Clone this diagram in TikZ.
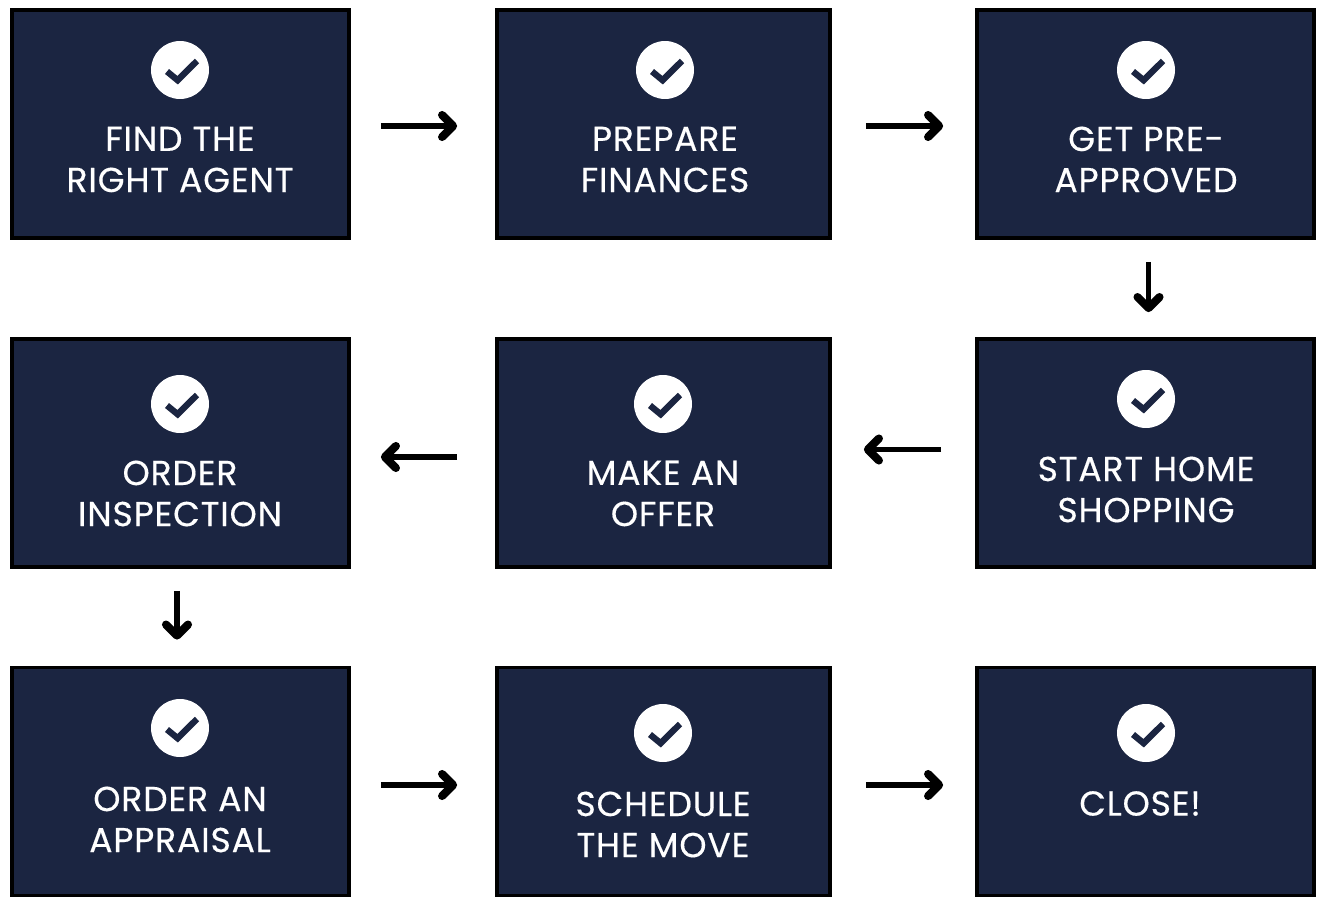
\documentclass[tikz,border=0pt]{standalone}
\usepackage{fontspec}
\setmainfont[LetterSpace=2.4, FakeBold=0.35]{Poppins}
\usetikzlibrary{arrows.meta}

\definecolor{navy}{HTML}{1B2541}

\begin{document}
\begin{tikzpicture}[
    x=0.02cm, y=-0.02cm,
    wideblock/.style={draw=black, fill=navy, line width=2.2pt, minimum width=6.74cm, minimum height=4.56cm},
    midblock/.style={wideblock, minimum width=6.66cm},
    caption/.style={text=white, align=center, inner sep=0pt, font=\fontsize{19.7}{23.4}\selectfont},
    badge/.style={circle, fill=white, inner sep=0pt, minimum size=1.16cm, path picture={
        \draw[navy, line width=3.6pt, miter limit=10]
            ([shift={(-13,1.5)}]path picture bounding box.center) --
            ([shift={(-2.4,10.2)}]path picture bounding box.center) --
            ([shift={(17,-9)}]path picture bounding box.center);
    }},
    flow/.style={-{Straight Barb[length=2.2mm, width=4.4mm, round, line width=4.6pt]}, line width=3.2pt, black}
]

    \useasboundingbox (0, 0) rectangle (1317, 898);

    % === Top row ===
    \node[wideblock] (agent) at (180.5, 124) {};
    \node[midblock] (finances) at (663.5, 124) {};
    \node[wideblock] (preapproved) at (1145.5, 124) {};

    \node[badge] (agentbadge) at (180, 70) {};
    \node[badge] (financesbadge) at (665, 70) {};
    \node[badge] (preapprovedbadge) at (1146, 70) {};

    \node[caption] (agenttext) at (180, 159.5) {FIND THE\\RIGHT AGENT};
    \node[caption] (financestext) at (665, 159.5) {PREPARE\\FINANCES};
    \node[caption] (preapprovedtext) at (1146, 159.5) {GET PRE-\\APPROVED};

    % === Middle row ===
    \node[wideblock] (inspection) at (180.5, 453) {};
    \node[midblock] (offer) at (663.5, 453) {};
    \node[wideblock] (shopping) at (1145.5, 453) {};

    \node[badge] (inspectionbadge) at (180, 404) {};
    \node[badge] (offerbadge) at (663, 404) {};
    \node[badge] (shoppingbadge) at (1146, 399) {};

    \node[caption] (inspectiontext) at (180, 493.5) {ORDER\\INSPECTION};
    \node[caption] (offertext) at (663, 493.5) {MAKE AN\\OFFER};
    \node[caption] (shoppingtext) at (1146, 489.5) {START HOME\\SHOPPING};

    % === Bottom row ===
    \node[wideblock] (appraisal) at (180.5, 781.5) {};
    \node[midblock] (move) at (663.5, 781.5) {};
    \node[wideblock] (closing) at (1145.5, 781.5) {};

    \node[badge] (appraisalbadge) at (180, 728) {};
    \node[badge] (movebadge) at (663, 733) {};
    \node[badge] (closingbadge) at (1146, 733) {};

    \node[caption] (appraisaltext) at (180, 819.5) {ORDER AN\\APPRAISAL};
    \node[caption] (movetext) at (663, 824.5) {SCHEDULE\\THE MOVE};
    \node[caption] (closingtext) at (1140, 803.5) {CLOSE!};

    % === Arrows ===
    \draw[flow, shorten <=0.6cm, shorten >=0.76cm] ([yshift=-0.04cm]agent.east) -- ([yshift=-0.04cm]finances.west);
    \draw[flow, shorten <=0.68cm, shorten >=0.64cm] ([yshift=-0.04cm]finances.east) -- ([yshift=-0.04cm]preapproved.west);
    \draw[flow, shorten <=0.44cm, shorten >=0.5cm] ([xshift=0.06cm]preapproved.south) -- ([xshift=0.06cm]shopping.north);
    \draw[flow, shorten <=0.68cm, shorten >=0.64cm] ([yshift=0.07cm]shopping.west) -- ([yshift=0.07cm]offer.east);
    \draw[flow, shorten <=0.76cm, shorten >=0.6cm] ([yshift=-0.08cm]offer.west) -- ([yshift=-0.08cm]inspection.east);
    \draw[flow, shorten <=0.44cm, shorten >=0.52cm] ([xshift=-0.07cm]inspection.south) -- ([xshift=-0.07cm]appraisal.north);
    \draw[flow, shorten <=0.6cm, shorten >=0.76cm] ([yshift=-0.07cm]appraisal.east) -- ([yshift=-0.07cm]move.west);
    \draw[flow, shorten <=0.68cm, shorten >=0.64cm] ([yshift=-0.07cm]move.east) -- ([yshift=-0.07cm]closing.west);

\end{tikzpicture}
\end{document}
